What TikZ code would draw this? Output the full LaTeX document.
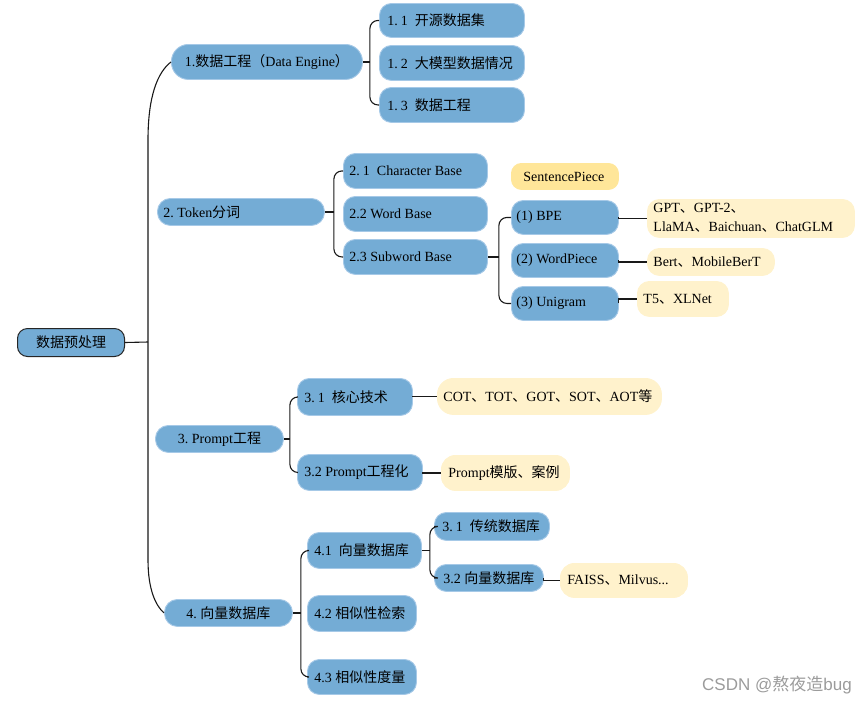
\documentclass[tikz,border=0pt]{standalone}
\usepackage{fontspec}
\setmainfont{Liberation Serif}
\newfontfamily\cjk{Noto Sans CJK SC}
\newfontfamily\wmsans{Liberation Sans}
\newcommand\C[1]{{\cjk #1}}
\usetikzlibrary{calc}
\definecolor{nodeblue}{HTML}{74ACD5}
\definecolor{nodeedge}{HTML}{A6C9E7}
\definecolor{leafyellow}{HTML}{FFF2CC}
\definecolor{spyellow}{HTML}{FFE699}
\definecolor{wmgray}{HTML}{9B9B9B}
\frenchspacing
\tikzset{
  txtbase/.style={inner ysep=0pt, font=\fontsize{14}{18}\selectfont, text=black},
  bluebox/.style={txtbase, fill=nodeblue, draw=nodeedge, line width=0.9pt, rounded corners=12pt},
  pillbox/.style={bluebox, rounded corners=13pt},
  rootbox/.style={txtbase, fill=nodeblue, draw=black!85, line width=1pt, rounded corners=10pt},
  leafbox/.style={txtbase, fill=leafyellow, draw=leafyellow, line width=0.9pt, rounded corners=12pt},
  spbox/.style={txtbase, fill=spyellow, draw=spyellow, line width=0.9pt, rounded corners=10pt},
  link/.style={draw=black!90, line width=1.1pt},
  bracket/.style={link, rounded corners=8pt},
}
% name, style, x1, y1, x2, y2, pad, l/c, text
\newcommand\bx[9]{%
  \pgfmathsetmacro\bxw{#5-#3-2*#7}%
  \pgfmathsetmacro\bxh{#6-#4}%
  \node[#2, anchor=north west, inner xsep=#7pt, minimum height=\bxh pt] (#1) at (#3,#4) {\makebox[\bxw pt][#8]{#9}};}
\begin{document}
\begin{tikzpicture}[x=1pt,y=-1pt]
\useasboundingbox (0,0) rectangle (864,705);
% root
\bx{root}{rootbox}{17}{328}{124}{356}{4}{c}{\C{数据预处理}}
% level 1
\bx{n1}{bluebox, rounded corners=17pt}{171}{44}{362}{79}{6}{c}{1.\C{数据工程（}Data Engine\C{）}}
\bx{n2}{pillbox}{157}{198}{324}{225}{6}{l}{2. Token\C{分词}}
\bx{n3}{pillbox}{155}{425}{283}{452}{6}{c}{3. Prompt\C{工程}}
\bx{n4}{pillbox}{164}{599}{292}{626}{6}{c}{4. \C{向量数据库}}
% section 1
\bx{n11}{bluebox}{379}{3}{524}{37}{8}{l}{1.\hspace{3pt}1\hspace{7pt}\C{开源数据集}}
\bx{n12}{bluebox}{379}{45}{524}{80}{8}{l}{1.\hspace{3pt}2\hspace{7pt}\C{大模型数据情况}}
\bx{n13}{bluebox}{379}{87}{524}{122}{8}{l}{1.\hspace{3pt}3\hspace{7pt}\C{数据工程}}
% section 2
\bx{n21}{bluebox}{343}{153}{487}{188}{6}{l}{2.\hspace{3pt}1\hspace{7pt}Character Base}
\bx{n22}{bluebox}{343}{196}{487}{231}{6}{l}{2.2 Word Base}
\bx{n23}{bluebox}{343}{239}{487}{274}{6}{l}{2.3 Subword Base}
\bx{sp}{spbox}{511}{163}{618}{189}{12}{l}{SentencePiece}
\bx{bpe}{bluebox}{511}{200}{618}{234}{5}{l}{(1) BPE}
\bx{wp}{bluebox}{511}{243}{618}{277}{5}{l}{(2) WordPiece}
\bx{uni}{bluebox}{511}{286}{618}{320}{5}{l}{(3) Unigram}
\bx{gpt}{leafbox, font=\fontsize{14}{19}\selectfont}{647}{199}{854}{233}{6}{l}{\begin{tabular}{@{}l@{}}GPT\C{、}GPT-2\C{、}\\LlaMA\C{、}Baichuan\C{、}ChatGLM\end{tabular}}
\bx{bert}{leafbox}{647}{248}{774}{275}{6}{l}{Bert\C{、}MobileBerT}
\bx{t5}{leafbox}{637}{281}{728}{316}{6}{l}{T5\C{、}XLNet}
% section 3
\bx{n31}{bluebox}{297}{378}{412}{415}{7}{l}{3.\hspace{3pt}1\hspace{7pt}\C{核心技术}}
\bx{n32}{bluebox}{297}{454}{422}{490}{7}{l}{3.2 Prompt\C{工程化}}
\bx{cot}{leafbox, rounded corners=16pt}{437}{378}{661}{414}{6}{l}{COT\C{、}TOT\C{、}GOT\C{、}SOT\C{、}AOT\C{等}}
\bx{pmt}{leafbox, rounded corners=14pt}{441}{455}{569}{490}{7}{l}{Prompt\C{模版、案例}}
% section 4
\bx{n41}{bluebox}{307}{532}{421}{568}{7}{l}{4.1\hspace{7pt}\C{向量数据库}}
\bx{n42}{bluebox}{307}{595}{416}{631}{7}{l}{4.2 \C{相似性检索}}
\bx{n43}{bluebox}{307}{659}{416}{694}{7}{l}{4.3 \C{相似性度量}}
\bx{n431}{bluebox}{434}{512}{549}{540}{8}{l}{3.\hspace{3pt}1\hspace{7pt}\C{传统数据库}}
\bx{n432}{bluebox}{434}{564}{543}{591}{9}{l}{3.2 \C{向量数据库}}
\bx{faiss}{leafbox, rounded corners=14pt}{560}{563}{687}{597}{7}{l}{FAISS\C{、}Milvus...}
% watermark
\node[anchor=west, inner sep=0pt, text=wmgray, font=\fontsize{17}{19}\selectfont] (wm) at (702,685) {\wmsans CSDN @\C{熬夜造}bug};
% trunk
\coordinate (trunk) at (148,342);
\draw[link] (root.east) -- (trunk);
\draw[link] (n1.west) .. controls (158,72) and (148,95) .. (148,140) -- (148,560) .. controls (148,590) and (156,606) .. (n4.west);
% section 1 connectors
\coordinate (b1) at ($(n1.east)+(7,0)$);
\draw[link] (n1.east) -- (b1);
\draw[bracket] (n11.west) -| (b1) |- (n13.west);
% section 2 connectors
\coordinate (b2) at ($(n2.east)+(9,0)$);
\draw[link] (n2.east) -- (b2);
\draw[bracket] (n21.west) -| (b2) |- (n23.west);
\coordinate (b23) at ($(n23.east)+(11,0)$);
\draw[link] (n23.east) -- (b23);
\draw[bracket] (bpe.west) -| (b23) |- (uni.west);
\draw[link] (bpe.east) |- (gpt.west);
\draw[link] (wp.east) |- (bert.west);
\draw[link] (uni.east) |- (t5.west);
% section 3 connectors
\coordinate (b3) at ($(n3.east)+(6,0)$);
\draw[link] (n3.east) -- (b3);
\draw[bracket] (n31.west) -| (b3) |- (n32.west);
\draw[link] (n31.east) |- (cot.west);
\draw[link] (n32.east) |- (pmt.west);
% section 4 connectors
\coordinate (b4) at ($(n4.east)+(8,0)$);
\draw[link] (n4.east) -- (b4);
\draw[bracket] (n41.west) -| (b4) |- (n43.west);
\coordinate (b41) at ($(n41.east)+(8,0)$);
\draw[link] (n41.east) -- (b41);
\draw[bracket] (n431.west) -| (b41) |- (n432.west);
\draw[link] (n432.east) |- (faiss.west);
\end{tikzpicture}
\end{document}
